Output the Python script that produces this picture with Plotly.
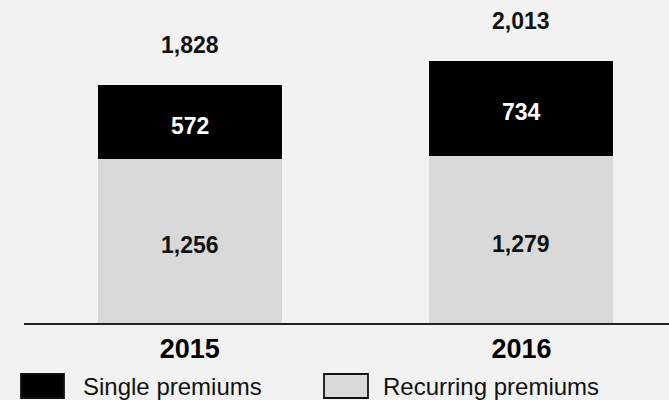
import plotly.graph_objects as go

years = ["2015", "2016"]
recurring = [1256, 1279]
single = [572, 734]
totals = [1828, 2013]
series_names = ["Single premiums", "Recurring premiums"]

W, H = 669, 400
ML, MR, MT, MB = 24, 0, 0, 77
PW, PH = W - ML - MR, H - MT - MB

FONT = "Arial, Liberation Sans, sans-serif"
BG = "#f2f2f2"
GRAY = "#d9d9d9"


def px_x(x):
    return (x - ML) / PW


def px_y(y):
    return (H - MB - y) / PH


fig = go.Figure()
fig.add_bar(
    x=years, y=recurring, name=series_names[1],
    marker=dict(color=GRAY, line=dict(width=0)),
    width=0.555, showlegend=False, hoverinfo="skip",
)
fig.add_bar(
    x=years, y=single, name=series_names[0],
    marker=dict(color="#000000", line=dict(width=0)),
    width=0.555, showlegend=False, hoverinfo="skip",
)

annotations = []
for i, (r, s, t) in enumerate(zip(recurring, single, totals)):
    # x given as category index on the category axis
    annotations.append(dict(
        x=i, y=r / 2, xref="x", yref="y", text=f"<b>{r:,}</b>", showarrow=False,
        yanchor="middle", yshift=-4,
        font=dict(family=FONT, size=23, color="#111111"),
    ))
    annotations.append(dict(
        x=i, y=r + s / 2, xref="x", yref="y", text=f"<b>{s:,}</b>", showarrow=False,
        yanchor="middle", yshift=-4,
        font=dict(family=FONT, size=23, color="#ffffff"),
    ))
    annotations.append(dict(
        x=i, y=t, xref="x", yref="y", text=f"<b>{t:,}</b>", showarrow=False,
        yanchor="middle", yshift=40,
        font=dict(family=FONT, size=23, color="#111111"),
    ))

# custom legend
legend_items = [
    (series_names[0], "#000000", 21, 64, 83),
    (series_names[1], GRAY, 324, 368, 383),
]
shapes = []
for name, color, x0, x1, tx in legend_items:
    shapes.append(dict(
        type="rect", xref="paper", yref="paper",
        x0=px_x(x0), x1=px_x(x1), y0=px_y(398), y1=px_y(374),
        fillcolor=color, line=dict(color="#111111", width=1.8),
        layer="above",
    ))
    annotations.append(dict(
        x=px_x(tx - 2), y=px_y(386.5), xref="paper", yref="paper",
        text=name, showarrow=False, xanchor="left", yanchor="middle",
        font=dict(family=FONT, size=24, color="#111111"),
    ))

fig.update_layout(
    width=W, height=H,
    margin=dict(l=ML, r=MR, t=MT, b=MB, pad=0),
    barmode="stack",
    paper_bgcolor=BG, plot_bgcolor=BG,
    showlegend=False,
    annotations=annotations,
    shapes=shapes,
    xaxis=dict(
        type="category", range=[-0.5, 1.445],
        showline=True, linecolor="#222222", linewidth=1.5,
        showgrid=False, zeroline=False, ticks="",
        tickfont=dict(family=FONT, size=27, color="#000000", weight="bold"),
        ticklabelstandoff=1,
    ),
    yaxis=dict(
        range=[0, 2477], showticklabels=False, showline=False,
        showgrid=False, zeroline=False, ticks="",
    ),
)

fig.write_html(
    "out.html",
    config={"displayModeBar": False},
    post_script="document.body.style.margin='0';document.body.style.background='#f2f2f2';",
)
